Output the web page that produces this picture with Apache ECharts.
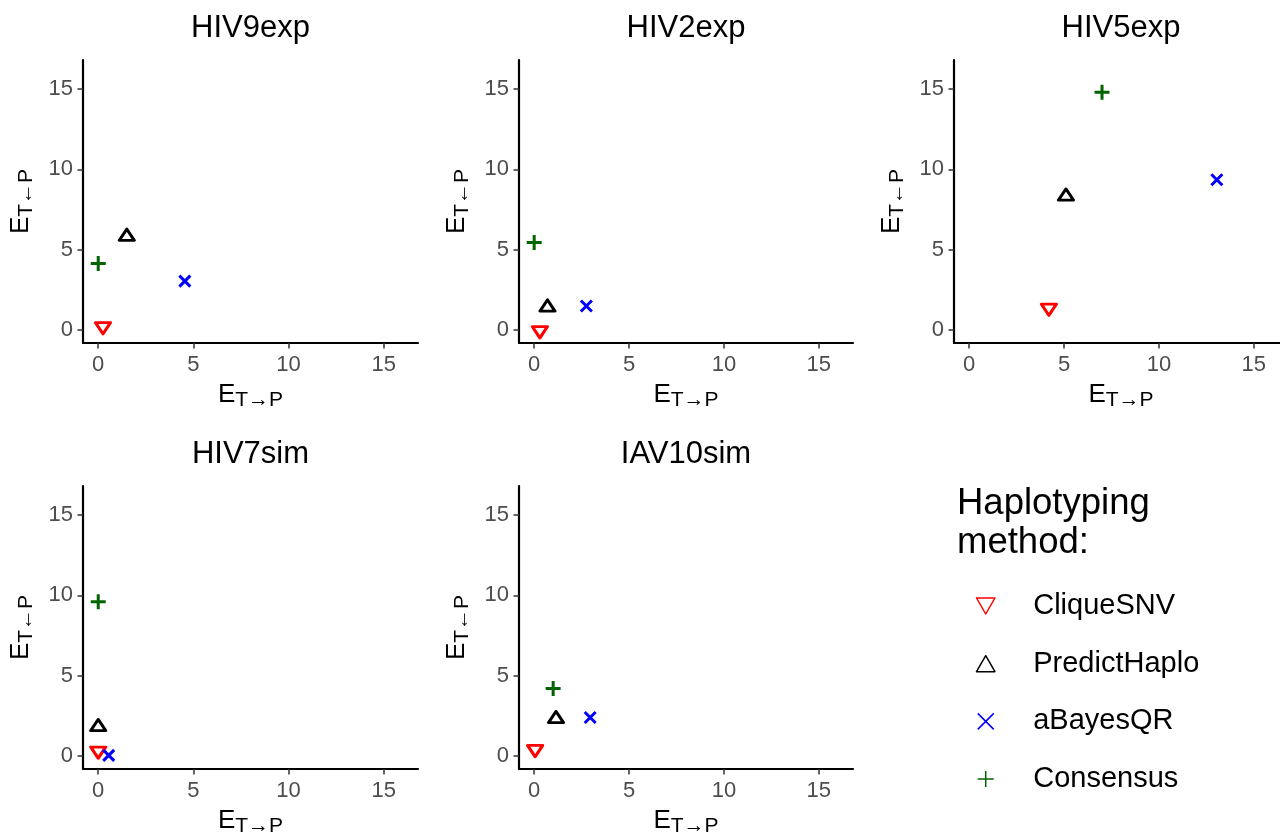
<!DOCTYPE html>
<html><head><meta charset="utf-8">
<script src="https://cdn.jsdelivr.net/npm/echarts@6/dist/echarts.min.js"></script>
<style>html,body{margin:0;padding:0;background:#fff}#c{width:1280px;height:836px}</style>
</head><body><div id="c"></div><script>
// ---- data ----
const panelNames = ['HIV9exp', 'HIV2exp', 'HIV5exp', 'HIV7sim', 'IAV10sim'];
const methodNames = ['CliqueSNV', 'PredictHaplo', 'aBayesQR', 'Consensus'];
const tickValues = [0, 5, 10, 15];
// [E_T->P, E_T<-P] per panel, in panel order
const cliqueSNV    = [[0.25, 0.25], [0.3, 0.0],  [4.2, 1.4],   [0, 0.35],    [0.05, 0.45]];
const predictHaplo = [[1.5, 5.8],   [0.7, 1.4],  [5.1, 8.3],   [0, 1.8],     [1.15, 2.3]];
const aBayesQR     = [[4.55, 3.05], [2.75, 1.5], [13.05, 9.35],[0.55, 0.05], [2.95, 2.4]];
const consensus    = [[0, 4.15],    [0, 5.45],   [7.0, 14.8],  [0, 9.6],     [1.0, 4.2]];
const axisMin = -0.8, axisMax = 16.8;

// ---- layout / style ----
const FONT = '"Liberation Sans", Arial, sans-serif';
const grids = [
  {left: 83,  top: 60,  width: 335, height: 283},
  {left: 519, top: 60,  width: 334, height: 283},
  {left: 954, top: 60,  width: 334, height: 283},
  {left: 83,  top: 486, width: 335, height: 283},
  {left: 519, top: 486, width: 334, height: 283}
];
const methodData = [cliqueSNV, predictHaplo, aBayesQR, consensus];
const methodStyles = [
  {symbol: 'path://M0,0L15,0L7.5,13Z', size: [15, 13], offset: [0, 13 / 6], color: '#FF0000', bw: 3},
  {symbol: 'path://M7.5,0L15,13L0,13Z', size: [15, 13], offset: [0, -13 / 6], color: '#000000', bw: 3},
  {symbol: 'path://M0,0L10,10M10,0L0,10', size: [11, 11], offset: [0, 0], color: '#0000FF', bw: 3},
  {symbol: 'path://M7,0L7,14M0,7L14,7', size: [15, 15], offset: [0, 0], color: '#006400', bw: 3}
];

const nameRich = {
  e: {fontSize: 26, fontFamily: FONT, color: '#000'},
  s: {fontSize: 21, fontFamily: FONT, color: '#000', padding: [12, 0, 0, 0]}
};

function axisCommon(i, isX) {
  return {
    gridIndex: i,
    type: 'value',
    min: axisMin,
    max: axisMax,
    axisLine: {show: true, onZero: false, lineStyle: {color: '#000', width: 2.2}},
    axisTick: {show: true, customValues: tickValues, length: 5.5, lineStyle: {color: '#333333', width: 1.5}},
    axisLabel: {customValues: tickValues, color: '#4D4D4D', fontSize: 22, fontFamily: FONT, margin: isX ? 11 : 10},
    splitLine: {show: false},
    name: isX ? '{e|E}{s|T→P}' : '{e|E}{s|T←P}',
    nameLocation: 'middle',
    nameGap: isX ? 35 : 46,
    nameTextStyle: {rich: nameRich}
  };
}

const titleCenters = grids.map(g => g.left + g.width / 2);
const titles = panelNames.map((n, i) => ({
  text: n,
  left: titleCenters[i] - 5,
  top: grids[i].top - 52,
  textAlign: 'center',
  textStyle: {fontSize: 31, fontWeight: 'normal', color: '#000', fontFamily: FONT}
}));
titles.push({
  text: 'Haplotyping\nmethod:',
  left: 952,
  top: 479,
  textStyle: {fontSize: 36.5, lineHeight: 39, fontWeight: 'normal', color: '#000', fontFamily: FONT}
});

const series = [];
panelNames.forEach((p, pi) => {
  methodNames.forEach((m, mi) => {
    const st = methodStyles[mi];
    series.push({
      type: 'scatter',
      name: m,
      xAxisIndex: pi,
      yAxisIndex: pi,
      data: [methodData[mi][pi]],
      symbol: st.symbol,
      symbolSize: st.size,
      symbolOffset: st.offset,
      symbolKeepAspect: true,
      itemStyle: {color: 'none', borderColor: st.color, borderWidth: st.bw, borderJoin: 'round', opacity: 1},
      emphasis: {disabled: true},
      z: 2 + mi
    });
  });
});

const chart = echarts.init(document.getElementById('c'), null, {renderer: 'canvas'});
chart.setOption({
  animation: false,
  backgroundColor: '#ffffff',
  textStyle: {fontFamily: FONT},
  title: titles,
  grid: grids.map(g => Object.assign({containLabel: false, outerBoundsMode: 'none'}, g)),
  xAxis: grids.map((g, i) => axisCommon(i, true)),
  yAxis: grids.map((g, i) => axisCommon(i, false)),
  legend: {
    orient: 'vertical',
    left: 974,
    top: 591,
    padding: 0,
    itemWidth: 85,
    itemHeight: 16,
    itemGap: 27.7,
    selectedMode: false,
    data: methodNames,
    textStyle: {fontSize: 29, lineHeight: 30, color: '#000', fontFamily: FONT},
    itemStyle: {borderWidth: 1.5}
  },
  tooltip: {show: false},
  series: series
});
</script></body></html>
